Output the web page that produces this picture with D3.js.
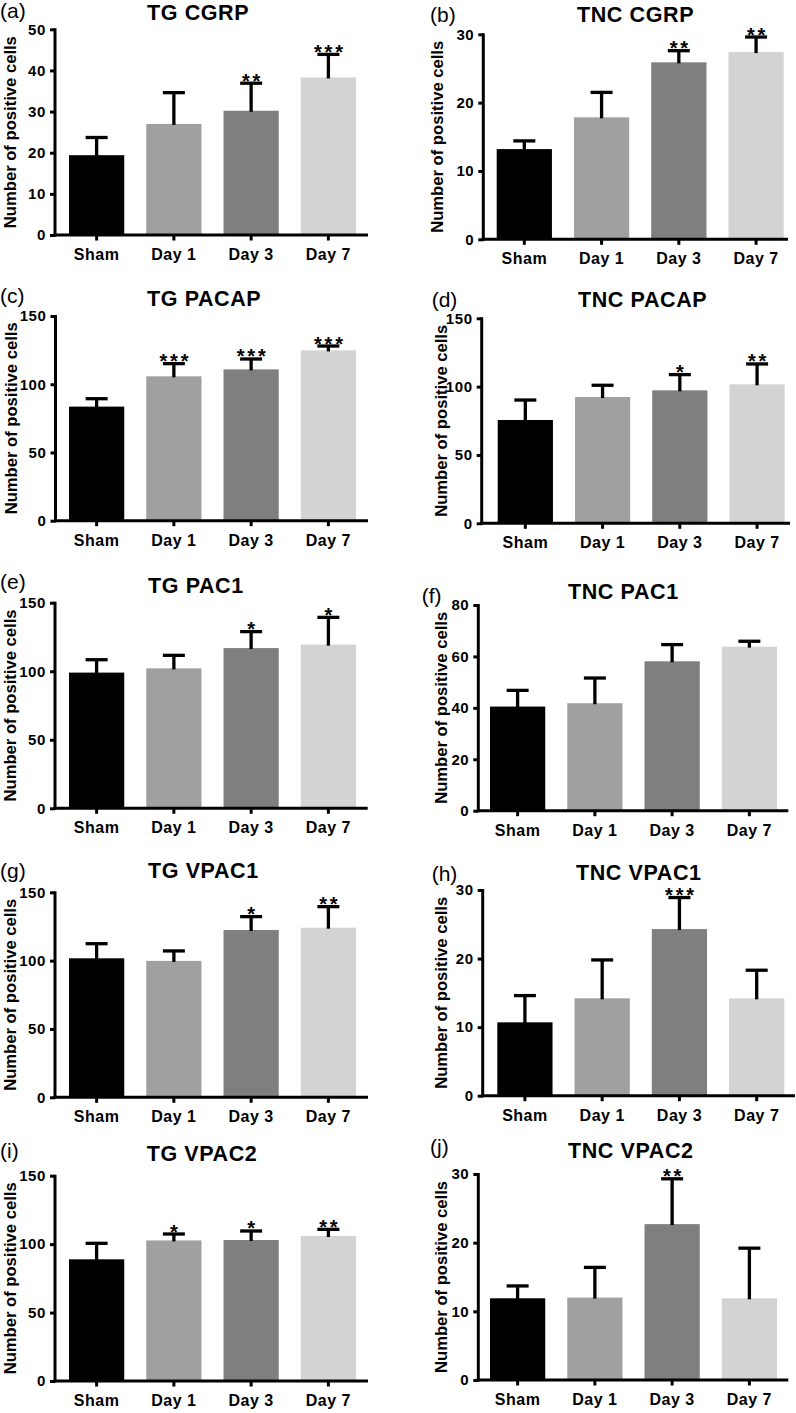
<!DOCTYPE html>
<html><head><meta charset="utf-8">
<script src="https://cdn.jsdelivr.net/npm/d3@7"></script>
<style>
html,body{margin:0;padding:0;background:#fff;}
svg{display:block;font-family:"Liberation Sans",Arial,sans-serif;}
</style></head>
<body>
<svg id="chart" width="796" height="1413"></svg>
<script>
// ---------- data ----------
const categories = ["Sham", "Day 1", "Day 3", "Day 7"];
const barColors = ["#000000", "#a0a0a0", "#7f7f7f", "#d3d3d3"];
const panelLetters = ["(a)", "(b)", "(c)", "(d)", "(e)", "(f)", "(g)", "(h)", "(i)", "(j)"];
const panelTitles = ["TG CGRP", "TNC CGRP", "TG PACAP", "TNC PACAP", "TG PAC1", "TNC PAC1", "TG VPAC1", "TNC VPAC1", "TG VPAC2", "TNC VPAC2"];
const yAxisTitle = "Number of positive cells";
const yMax = [50, 30, 150, 150, 150, 80, 150, 30, 150, 30];
const yTickStep = [10, 10, 50, 50, 50, 20, 50, 10, 50, 10];

const tgCgrpMean = [19.4, 27.0, 30.2, 38.3];
const tgCgrpSem = [4.3, 7.6, 6.7, 5.6];
const tgCgrpSig = ["", "", "**", "***"];

const tncCgrpMean = [13.2, 17.85, 25.9, 27.4];
const tncCgrpSem = [1.2, 3.65, 1.7, 2.2];
const tncCgrpSig = ["", "", "**", "**"];

const tgPacapMean = [83.6, 105.8, 110.9, 124.8];
const tgPacapSem = [5.8, 9.3, 7.6, 3.2];
const tgPacapSig = ["", "***", "***", "***"];

const tncPacapMean = [75.6, 92.4, 97.3, 101.7];
const tncPacapSem = [14.6, 8.6, 11.5, 14.9];
const tncPacapSig = ["", "", "*", "**"];

const tgPac1Mean = [99.0, 102.1, 116.9, 119.4];
const tgPac1Sem = [9.4, 9.5, 12.0, 19.9];
const tgPac1Sig = ["", "", "*", "*"];

const tncPac1Mean = [40.5, 41.8, 58.1, 63.8];
const tncPac1Sem = [6.3, 9.8, 6.5, 2.1];
const tncPac1Sig = ["", "", "", ""];

const tgVpac1Mean = [101.7, 99.8, 122.4, 124.1];
const tgVpac1Sem = [10.7, 7.3, 9.8, 15.4];
const tgVpac1Sig = ["", "", "*", "**"];

const tncVpac1Mean = [10.7, 14.2, 24.3, 14.2];
const tncVpac1Sem = [3.9, 5.6, 4.6, 4.1];
const tncVpac1Sig = ["", "", "***", ""];

const tgVpac2Mean = [88.9, 102.7, 103.0, 105.9];
const tgVpac2Sem = [11.7, 4.7, 6.6, 4.9];
const tgVpac2Sig = ["", "*", "*", "**"];

const tncVpac2Mean = [11.9, 12.0, 22.7, 11.9];
const tncVpac2Sem = [1.8, 4.4, 6.6, 7.3];
const tncVpac2Sig = ["", "", "**", ""];

const panelMeans = [tgCgrpMean, tncCgrpMean, tgPacapMean, tncPacapMean, tgPac1Mean, tncPac1Mean, tgVpac1Mean, tncVpac1Mean, tgVpac2Mean, tncVpac2Mean];
const panelSems = [tgCgrpSem, tncCgrpSem, tgPacapSem, tncPacapSem, tgPac1Sem, tncPac1Sem, tgVpac1Sem, tncVpac1Sem, tgVpac2Sem, tncVpac2Sem];
const panelSigs = [tgCgrpSig, tncCgrpSig, tgPacapSig, tncPacapSig, tgPac1Sig, tncPac1Sig, tgVpac1Sig, tncVpac1Sig, tgVpac2Sig, tncVpac2Sig];

// ---------- layout (positions only) ----------
// [axisX, plotTop, plotBottom, axisEnd, firstBarX, titleX, titleY, letterX, letterY, yTitleX]
const layout = [
  [55, 29.3, 235, 368, 69, 147, 20, 0, 17.5, 16],
  [483.3, 34.3, 239.3, 788, 496.7, 577, 21.7, 430, 22, 443],
  [55.5, 316, 520.7, 368, 69, 147, 306, 0, 303, 16.5],
  [481.7, 318.3, 523.3, 790, 497.7, 578, 306.7, 431.7, 307, 446.5],
  [55, 602.7, 808.3, 367.7, 69, 148, 593, 0, 589, 16],
  [478.3, 605, 810.7, 788.3, 490, 568, 599, 421.7, 603, 446.7],
  [55, 892.3, 1097.3, 368, 69, 148, 878, 0, 878, 16],
  [482.7, 890, 1095.7, 795, 497.3, 576, 880, 431.7, 881, 446.5],
  [55, 1175.7, 1381, 368, 69, 146.7, 1161, 0, 1158, 16],
  [478.3, 1174, 1380, 788.3, 490, 568, 1158, 430, 1154, 446.5]
];

const svg = d3.select("#chart");
const AXW = 3;

layout.forEach((L, p) => {
  const [axisX, top, bottom, axisEnd, bar0, titleX, titleY, letterX, letterY, yTitleX] = L;
  const g = svg.append("g");
  const x = d3.scaleBand().domain(categories).range([bar0, bar0 + 287]).paddingInner(0.285).paddingOuter(0);
  const y = d3.scaleLinear().domain([0, yMax[p]]).range([bottom, top]);
  const means = panelMeans[p], sems = panelSems[p], sigs = panelSigs[p];
  const rows = categories.map((c, i) => ({c, m: means[i], s: sems[i], sig: sigs[i], col: barColors[i]}));

  // bars
  g.selectAll("rect.bar").data(rows).enter().append("rect")
    .attr("x", d => x(d.c)).attr("width", x.bandwidth())
    .attr("y", d => y(d.m)).attr("height", d => y(0) - y(d.m))
    .attr("fill", d => d.col);

  // error bars
  const capW = 22;
  g.selectAll("line.stem").data(rows).enter().append("line")
    .attr("x1", d => x(d.c) + x.bandwidth() / 2).attr("x2", d => x(d.c) + x.bandwidth() / 2)
    .attr("y1", d => y(d.m) + 1).attr("y2", d => y(d.m + d.s))
    .attr("stroke", "#000").attr("stroke-width", 3.3);
  g.selectAll("line.cap").data(rows).enter().append("line")
    .attr("x1", d => x(d.c) + x.bandwidth() / 2 - capW / 2).attr("x2", d => x(d.c) + x.bandwidth() / 2 + capW / 2)
    .attr("y1", d => y(d.m + d.s)).attr("y2", d => y(d.m + d.s))
    .attr("stroke", "#000").attr("stroke-width", 3.3);

  // significance stars
  g.selectAll("text.sig").data(rows.filter(d => d.sig)).enter().append("text")
    .attr("x", d => x(d.c) + x.bandwidth() / 2 + 1.5)
    .attr("y", d => y(d.m + d.s) + 4.5)
    .attr("text-anchor", "middle")
    .attr("font-size", 20).attr("font-weight", "bold").attr("letter-spacing", 2.8)
    .text(d => d.sig);

  // y axis
  const yAxis = d3.axisLeft(y).tickValues(d3.range(0, yMax[p] + 0.001, yTickStep[p])).tickSize(5).tickPadding(4).tickSizeOuter(0);
  const ya = g.append("g").attr("transform", `translate(${axisX},0)`).call(yAxis);
  ya.select(".domain").attr("stroke", "#000").attr("stroke-width", AXW).attr("d", `M0,${top - 1}V${bottom + AXW / 2}`);
  ya.selectAll(".tick line").attr("stroke", "#000").attr("stroke-width", AXW);
  ya.selectAll(".tick text").attr("font-size", 15).attr("font-weight", "bold").attr("fill", "#000")
    .attr("font-family", "Liberation Sans, Arial, sans-serif").attr("letter-spacing", 0.6);

  // x axis
  const xAxis = d3.axisBottom(x).tickSize(5.5).tickPadding(8).tickSizeOuter(0);
  const xa = g.append("g").attr("transform", `translate(0,${bottom})`).call(xAxis);
  xa.select(".domain").attr("stroke", "#000").attr("stroke-width", AXW).attr("d", `M${axisX - AXW / 2},0H${axisEnd}`);
  xa.selectAll(".tick line").attr("stroke", "#000").attr("stroke-width", AXW);
  xa.selectAll(".tick text").attr("font-size", 16).attr("font-weight", "bold").attr("fill", "#000")
    .attr("font-family", "Liberation Sans, Arial, sans-serif").attr("letter-spacing", 0.5);

  // y axis title
  g.append("text")
    .attr("transform", `translate(${yTitleX},${(top + bottom) / 2}) rotate(-90)`)
    .attr("text-anchor", "middle")
    .attr("font-size", 16).attr("font-weight", "bold")
    .attr("textLength", 192).attr("lengthAdjust", "spacingAndGlyphs")
    .text(yAxisTitle);

  // panel title
  g.append("text").attr("x", titleX).attr("y", titleY)
    .attr("font-size", 21.5).attr("font-weight", "bold").attr("letter-spacing", 0.6)
    .text(panelTitles[p]);

  // panel letter
  g.append("text").attr("x", letterX).attr("y", letterY)
    .attr("font-size", 21)
    .text(panelLetters[p]);
});
</script>
</body></html>
